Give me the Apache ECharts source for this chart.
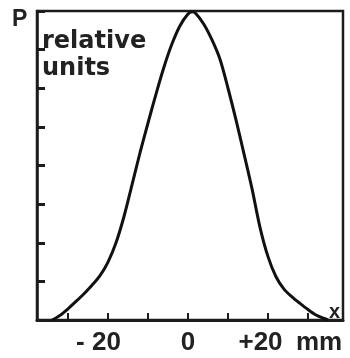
<!DOCTYPE html>
<html>
<head>
<meta charset="utf-8">
<script src="https://cdn.jsdelivr.net/npm/echarts@6/dist/echarts.min.js"></script>
<style>
  html, body { margin: 0; padding: 0; background: #fff; }
  #chart { width: 350px; height: 358px; }
</style>
</head>
<body>
<div id="chart"></div>
<script>
// Transverse profile: position across the beam (mm) and power P (relative units)
const positionMm = [-34, -32, -30, -28, -26, -24, -22, -20, -18, -16, -14, -12, -10, -8, -6, -4, -2, 0, 1,
                    2, 4, 6, 8, 10, 12, 14, 16, 18, 20, 22, 24, 26, 28, 30, 32, 34, 35];
const powerRel   = [0, 0.12, 0.29, 0.48, 0.68, 0.9, 1.15, 1.5, 2.0, 2.68, 3.5, 4.33, 5.1, 5.85, 6.55, 7.15, 7.62, 7.92, 7.98,
                    7.93, 7.65, 7.25, 6.75, 6.0, 5.18, 4.3, 3.4, 2.4, 1.64, 1.12, 0.8, 0.6, 0.43, 0.27, 0.13, 0.04, 0];

// Tick marks along x every 10 mm; only three of them are labelled
const xTickValues  = [-30, -20, -10, 0, 10, 20, 30];
const xLabelValues = [-20, 0, 20];
const xLabelTexts  = ['- 20', '0', '+20'];

const xRange = [-37.75, 38.75];
const yRange = [0, 8];

const ink = '#1c1c1c';
const labelFont = 'Liberation Sans';

const chart = echarts.init(document.getElementById('chart'), null, { renderer: 'canvas' });

chart.setOption({
  backgroundColor: '#ffffff',
  animation: false,
  grid: {
    left: 37, right: 7, top: 11, bottom: 38,
    show: true, borderColor: ink, borderWidth: 2.5, backgroundColor: 'transparent'
  },
  xAxis: {
    type: 'value',
    min: xRange[0], max: xRange[1],
    axisLine: { show: true, onZero: false, lineStyle: { color: ink, width: 3 } },
    axisTick: {
      show: true, inside: true, length: 7, customValues: xTickValues,
      lineStyle: { color: ink, width: 2 }
    },
    splitLine: { show: false },
    axisLabel: {
      show: true, margin: 10, customValues: xLabelValues,
      color: '#222', fontFamily: labelFont, fontWeight: 'bold', fontSize: 26,
      formatter: function (v) {
        const i = xLabelValues.indexOf(v);
        if (i < 0) return '';
        if (v < 0) return '{neg|' + xLabelTexts[i] + '}';
        if (v > 0) return '{pos|' + xLabelTexts[i] + '}';
        return xLabelTexts[i];
      },
      rich: {
        neg: { fontFamily: labelFont, fontWeight: 'bold', fontSize: 26, color: '#222', padding: [0, 19, 0, 0] },
        pos: { fontFamily: labelFont, fontWeight: 'bold', fontSize: 26, color: '#222', padding: [0, 15, 0, 0] }
      }
    }
  },
  yAxis: {
    type: 'value',
    min: yRange[0], max: yRange[1], interval: 1,
    axisLine: { show: true, onZero: false, lineStyle: { color: ink, width: 2.5 } },
    axisTick: { show: true, inside: true, length: 8, lineStyle: { color: ink, width: 3 } },
    splitLine: { show: false },
    axisLabel: { show: false }
  },
  graphic: [
    {
      type: 'text', left: 12, top: 8,
      style: { text: 'P', font: 'bold 23px "Liberation Sans"', fill: '#222' }
    },
    {
      type: 'text', left: 42, top: 28,
      style: { text: 'relative\nunits', font: 'bold 24px "DejaVu Sans"', lineHeight: 27, fill: '#222' }
    },
    {
      type: 'text', left: 329, top: 302,
      style: { text: 'x', font: 'bold 20px "Liberation Sans"', fill: '#222' }
    },
    {
      type: 'text', left: 296, top: 330,
      style: { text: 'mm', font: 'bold 26px "Liberation Sans"', fill: '#222' }
    }
  ],
  series: [{
    type: 'line',
    data: positionMm.map((x, i) => [x, powerRel[i]]),
    smooth: 0.3,
    showSymbol: false,
    lineStyle: { color: '#111', width: 3 },
    clip: true
  }]
});
</script>
</body>
</html>
